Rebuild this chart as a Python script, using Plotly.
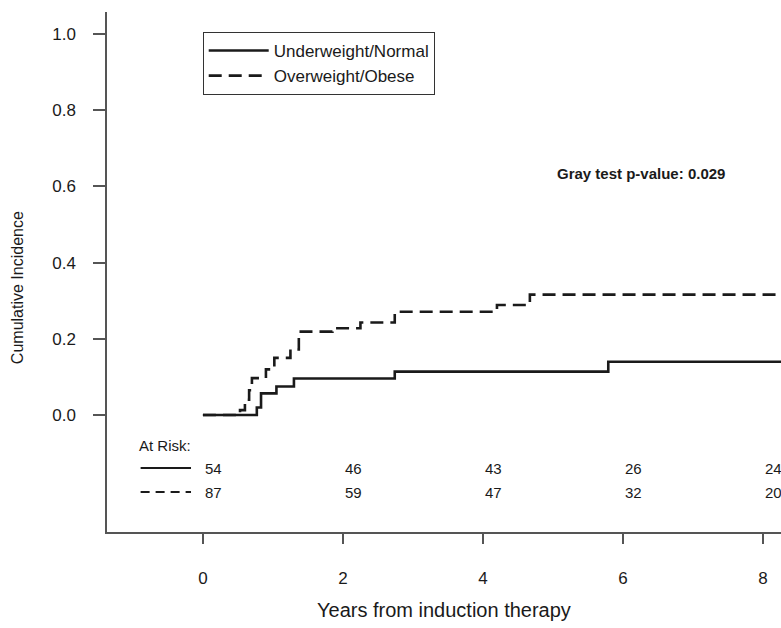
import plotly.graph_objects as go

# ---- data ----
under_t = [0, 0.77, 0.83, 1.05, 1.30, 2.74, 5.79, 8.4]
under_v = [0, 0.020, 0.057, 0.075, 0.096, 0.114, 0.140, 0.140]

over_t = [0, 0.53, 0.60, 0.66, 0.70, 0.90, 1.02, 1.25, 1.37, 1.85, 2.25, 2.74, 4.20, 4.67, 8.4]
over_v = [0, 0.013, 0.040, 0.065, 0.097, 0.120, 0.150, 0.172, 0.219, 0.228, 0.243, 0.271, 0.289, 0.316, 0.316]

series_names = ["Underweight/Normal", "Overweight/Obese"]

risk_times = [0, 2, 4, 6, 8]
risk_under = [54, 46, 43, 26, 24]
risk_over = [87, 59, 47, 32, 20]

x_ticks = [0, 2, 4, 6, 8]
y_ticks = [0.0, 0.2, 0.4, 0.6, 0.8, 1.0]

# ---- layout helpers ----
FONT = "Arial, Liberation Sans, sans-serif"
INK = "#1a1a1a"
AXIS = "#555555"
DASH = "13px,7px"

row_label_y = -0.081
row_under_y = -0.139
row_over_y = -0.202
key_x0, key_x1 = -0.89, -0.17

fig = go.Figure()
fig.add_trace(go.Scatter(x=under_t, y=under_v, mode="lines", line_shape="hv",
                         name=series_names[0],
                         line=dict(color=INK, width=2.6)))
fig.add_trace(go.Scatter(x=over_t, y=over_v, mode="lines", line_shape="hv",
                         name=series_names[1],
                         line=dict(color=INK, width=2.6, dash=DASH)))

annotations = []
annotations.append(dict(x=-0.94, y=row_label_y, xref="x", yref="y", text="At Risk:",
                        showarrow=False, xanchor="left", yanchor="middle",
                        font=dict(size=15, color=INK, family=FONT)))
for t, a, b in zip(risk_times, risk_under, risk_over):
    annotations.append(dict(x=t, y=row_under_y, xref="x", yref="y", text=str(a),
                            showarrow=False, xanchor="left", yanchor="middle",
                            font=dict(size=15, color=INK, family=FONT)))
    annotations.append(dict(x=t, y=row_over_y, xref="x", yref="y", text=str(b),
                            showarrow=False, xanchor="left", yanchor="middle",
                            font=dict(size=15, color=INK, family=FONT)))
annotations.append(dict(x=5.03, y=0.635, xref="x", yref="y",
                        text="<b>Gray test p-value: 0.029</b>",
                        showarrow=False, xanchor="left", yanchor="middle",
                        font=dict(size=15, color=INK, family=FONT)))
annotations.append(dict(x=-0.1335, y=0.469, xref="paper", yref="paper",
                        text="Cumulative Incidence", textangle=-90,
                        showarrow=False, xanchor="center", yanchor="middle",
                        font=dict(size=16, color=INK, family=FONT)))
annotations.append(dict(x=0.5, y=-0.15, xref="paper", yref="paper",
                        text="Years from induction therapy",
                        showarrow=False, xanchor="center", yanchor="middle",
                        font=dict(size=20, color=INK, family=FONT)))

shapes = [
    dict(type="line", xref="x", yref="y", x0=key_x0, x1=key_x1,
         y0=row_under_y, y1=row_under_y, line=dict(color=INK, width=2)),
    dict(type="line", xref="x", yref="y", x0=key_x0, x1=key_x1,
         y0=row_over_y, y1=row_over_y, line=dict(color=INK, width=2, dash="9px,6px")),
]

fig.update_layout(
    width=781, height=628,
    margin=dict(l=107, r=0, t=12, b=96),
    paper_bgcolor="white", plot_bgcolor="white",
    showlegend=True,
    legend=dict(x=0.142, y=0.9615, xanchor="left", yanchor="top",
                bordercolor="#333333", borderwidth=1, bgcolor="white",
                font=dict(size=17, color=INK, family=FONT),
                itemwidth=60, tracegroupgap=0),
    annotations=annotations,
    shapes=shapes,
    font=dict(family=FONT, color=INK),
)
fig.update_xaxes(range=[-1.37, 8.257], tickvals=x_ticks, ticks="outside", ticklen=10,
                 tickwidth=1.5, tickcolor=AXIS, showline=True, linecolor=AXIS, linewidth=1.5,
                 showgrid=False, zeroline=False, ticklabelstandoff=20,
                 tickfont=dict(size=17, color=INK, family=FONT))
fig.update_yaxes(range=[-0.307, 1.058], tickvals=y_ticks, tickformat=".1f", ticks="outside",
                 ticklen=12, tickwidth=1.5, tickcolor=AXIS, showline=True, linecolor=AXIS,
                 linewidth=1.5, showgrid=False, zeroline=False, ticklabelstandoff=14,
                 tickfont=dict(size=17, color=INK, family=FONT))

page_fix = ("document.body.style.margin='0';"
            "document.body.style.overflow='hidden';"
            "document.documentElement.style.overflow='hidden';")

fig.write_html("out.html", post_script=page_fix, config={"displayModeBar": False})
